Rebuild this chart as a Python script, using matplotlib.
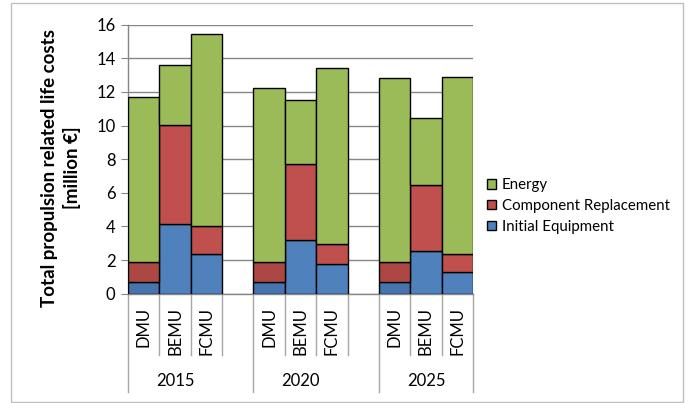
import matplotlib
matplotlib.use("Agg")
import matplotlib.pyplot as plt
from matplotlib.patches import Rectangle, Patch
import matplotlib.transforms as mtransforms

plt.rcParams['font.family'] = ['Lato', 'DejaVu Sans']

# data (million EUR)
years = ['2015', '2020', '2025']
vehicles = ['DMU', 'BEMU', 'FCMU']
initial = [0.71, 4.13, 2.34, 0.71, 3.18, 1.75, 0.71, 2.52, 1.27]
component = [1.16, 5.89, 1.71, 1.16, 4.54, 1.21, 1.16, 3.93, 1.09]
energy = [9.81, 3.58, 11.38, 10.37, 3.78, 10.45, 10.96, 4.02, 10.53]

green = '#9BBB59'
red = '#C0504D'
blue = '#4F81BD'
# DMU bars are drawn slightly darker in the original
red_dark = '#AD4744'
blue_dark = '#4674AE'

# slot positions: 3 bars per year, one empty slot between years
pos = []
for g in range(len(years)):
    for v in range(len(vehicles)):
        pos.append(g * 4 + v)

fig = plt.figure(figsize=(6.89, 4.03), dpi=100)
ax = fig.add_axes([128/689, 1 - 293.7/403, 345/689, 269/403])

bot2 = [a + b for a, b in zip(initial, component)]
reds = [red_dark if i % 3 == 0 else red for i in range(len(pos))]
blues = [blue_dark if i % 3 == 0 else blue for i in range(len(pos))]

ax.bar(pos, initial, width=1.0, color=blues, edgecolor='black', linewidth=1.0, zorder=3)
ax.bar(pos, component, width=1.0, bottom=initial, color=reds, edgecolor='black', linewidth=1.0, zorder=3)
ax.bar(pos, energy, width=1.0, bottom=bot2, color=green, edgecolor='black', linewidth=1.0, zorder=3)

ax.set_xlim(-0.5, 10.5)
ax.set_ylim(0, 16)
ax.set_yticks(range(0, 17, 2))
ax.tick_params(axis='y', labelsize=12, length=5, color='#868686', pad=4)
ax.set_xticks([])
ax.yaxis.grid(True, color='#868686', linewidth=1.0, zorder=0)
for s in ['top', 'right']:
    ax.spines[s].set_visible(False)
ax.spines['left'].set_color('#868686')
ax.spines['bottom'].set_color('#868686')
ax.spines['left'].set_linewidth(1.0)
ax.spines['bottom'].set_linewidth(1.0)

# category axis labels and separators
trans = mtransforms.blended_transform_factory(ax.transData, ax.transAxes)
for i, p in enumerate(pos):
    ax.text(p, -0.049, vehicles[i % 3], rotation=90, ha='center', va='top',
            fontsize=12, transform=trans)
for b in [0.5, 1.5, 2.5, 4.5, 5.5, 6.5, 8.5, 9.5]:
    ax.plot([b, b], [0, -0.228], color='#a6a6a6', lw=1.0, transform=trans, clip_on=False)
for b in [-0.5, 3.5, 7.5, 10.5]:
    ax.plot([b, b], [0, -0.365], color='#a6a6a6', lw=1.0, transform=trans, clip_on=False)
for g, yr in enumerate(years):
    c = g * 4 + 1
    ax.text(c, -0.323, yr, ha='center', va='center', fontsize=12, transform=trans)

fig.text(61/689, 1 - 168/403, 'Total propulsion related life costs\n[million \u20ac]',
         rotation=90, ha='center', va='center', fontsize=13.5, fontweight='bold',
         multialignment='center', linespacing=1.3)

handles = [Patch(facecolor=green, edgecolor='black', label='Energy'),
           Patch(facecolor=red, edgecolor='black', label='Component Replacement'),
           Patch(facecolor=blue, edgecolor='black', label='Initial Equipment')]
fig.legend(handles=handles, loc='center left', bbox_to_anchor=(481/689, 1 - 206/403),
           frameon=False, fontsize=10.8, handlelength=0.6, handleheight=0.6,
           handletextpad=0.4, labelspacing=0.45, borderaxespad=0)

fig.patches.append(Rectangle((11/689, 1 - 401.5/403), 672/689, 398.5/403,
                             transform=fig.transFigure, fill=False,
                             edgecolor='#bfbfbf', linewidth=1.0))

fig.savefig('out.png', dpi=100)
